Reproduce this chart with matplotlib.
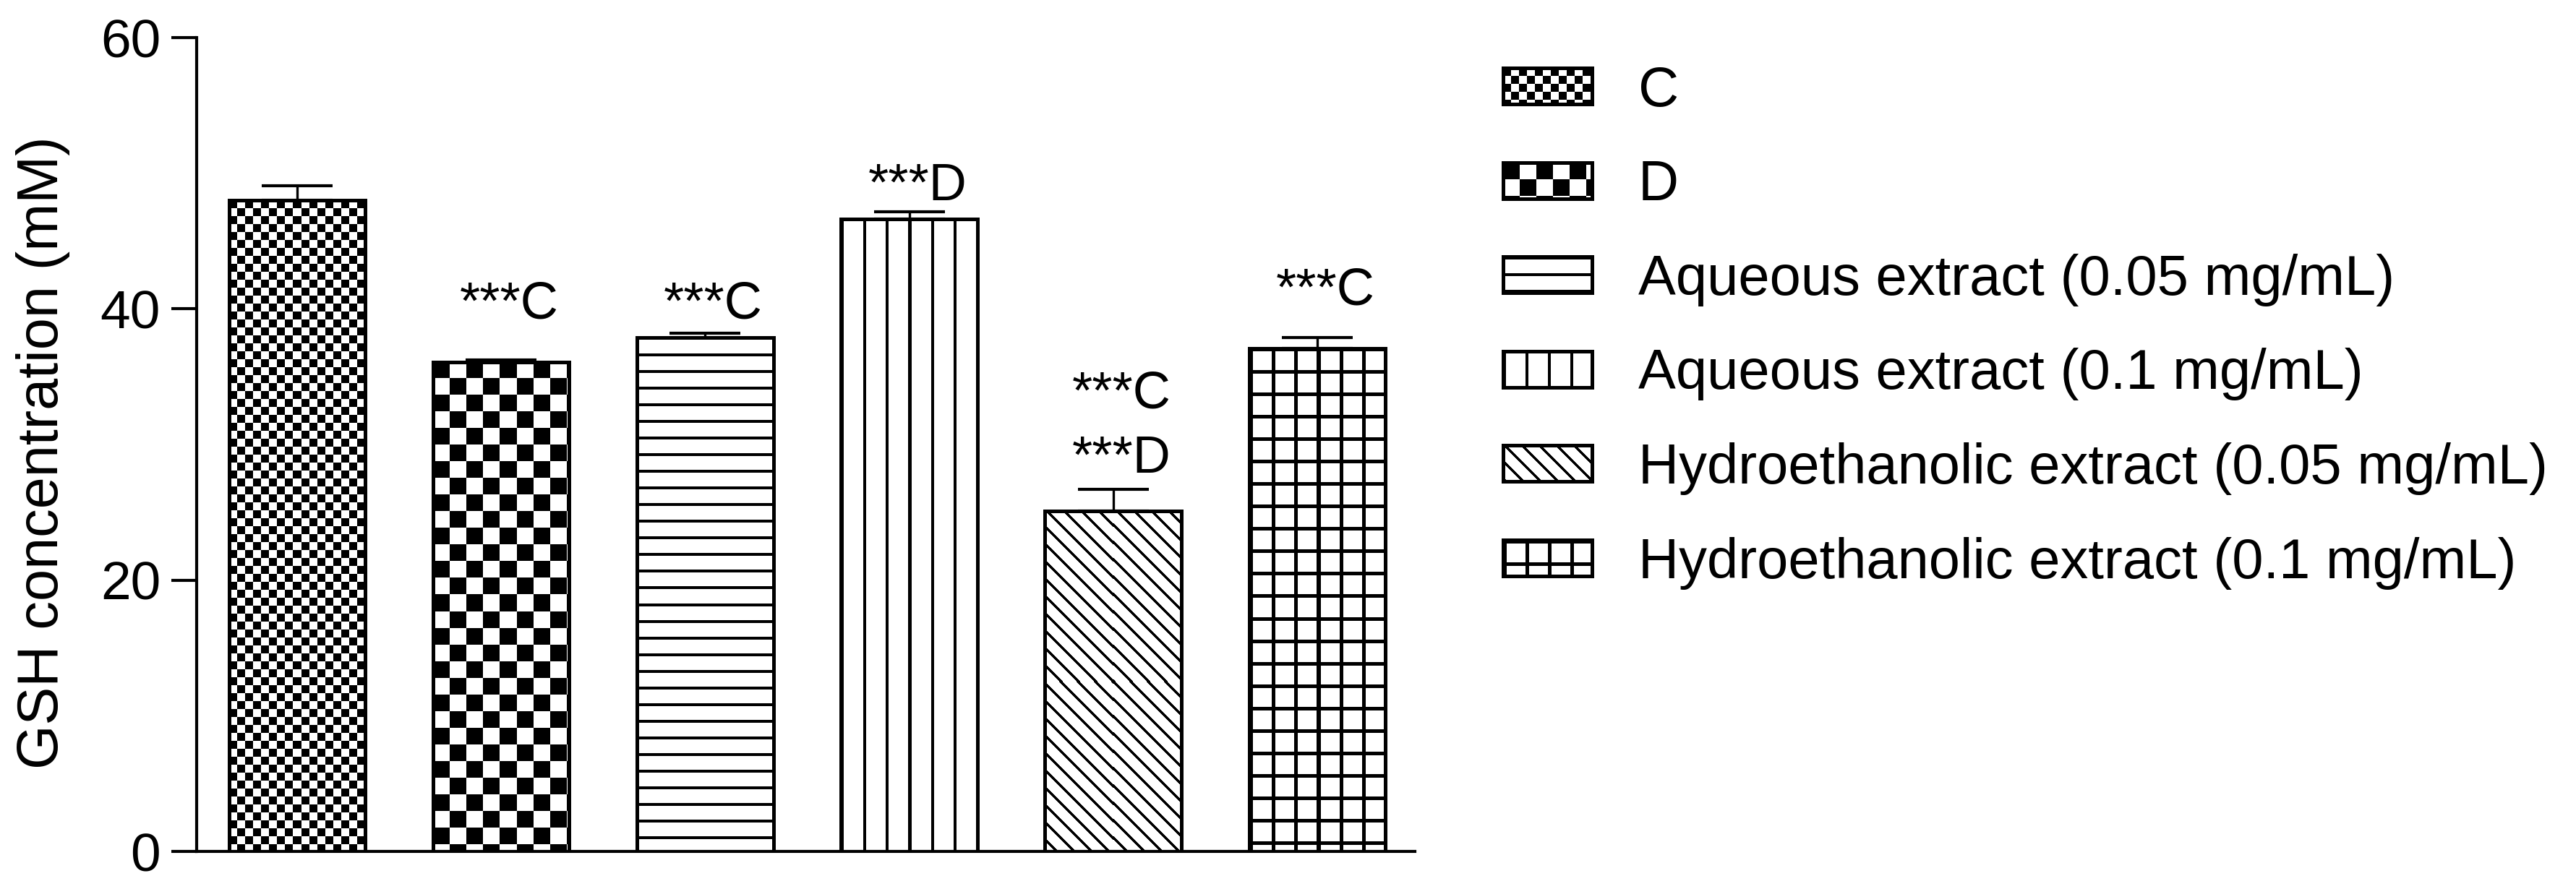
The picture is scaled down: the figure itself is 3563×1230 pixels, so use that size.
import numpy as np
import matplotlib.pyplot as plt

plt.rcParams["font.family"] = ["Liberation Sans", "DejaVu Sans"]

groups = [
    "C",
    "D",
    "Aqueous extract (0.05 mg/mL)",
    "Aqueous extract (0.1 mg/mL)",
    "Hydroethanolic extract (0.05 mg/mL)",
    "Hydroethanolic extract (0.1 mg/mL)",
]
gsh_mean = [48.0, 36.1, 37.9, 46.6, 25.1, 37.1]
gsh_err = [1.1, 0.15, 0.3, 0.55, 1.6, 0.8]
fills = ["fine_checker", "checker", "hlines", "vlines", "diag", "grid"]

# significance marks: (bar index, text, baseline in mM)
sig_bar = [1, 2, 3, 4, 4, 5]
sig_text = ["***C", "***C", "***D", "***C", "***D", "***C"]
sig_y = [39.3, 39.3, 48.0, 32.7, 27.9, 40.3]

y_ticks = [0, 20, 40, 60]

W, H, DPI = 3563, 1230, 100


def texture(kind, w, h):
    # 1 = white, 0 = black, pixel sized
    yy, xx = np.mgrid[0:h, 0:w]
    img = np.ones((h, w))
    if kind == "fine_checker":
        img = ((xx // 11 + yy // 11) % 2).astype(float)
    elif kind == "checker":
        img = ((xx // 23 + yy // 23) % 2).astype(float)
    elif kind == "hlines":
        img[(yy % 23) < 4] = 0
    elif kind == "vlines":
        img[(xx % 31) < 4] = 0
    elif kind == "diag":
        img[((xx - yy) % 24) < 5] = 0
    elif kind == "grid":
        img[(xx % 31) < 5] = 0
        img[(yy % 31) < 5] = 0
    return img


fig = plt.figure(figsize=(W / DPI, H / DPI), dpi=DPI)
ax = fig.add_axes([272 / W, 1 - 1178 / H, 1685 / W, 1126 / H])

x = np.arange(len(groups))
ax.set_xlim(-0.494, 5.48)
ax.set_ylim(0, 60)
ax.set_autoscale_on(False)

bars = ax.bar(x, gsh_mean, width=0.667, facecolor="none", edgecolor="black",
              linewidth=3.6, zorder=3)

for bar, kind in zip(bars, fills):
    x0, x1 = bar.get_x(), bar.get_x() + bar.get_width()
    y1 = bar.get_height()
    (px0, py0), (px1, py1) = ax.transData.transform([(x0, 0), (x1, y1)])
    img = texture(kind, int(round(px1 - px0)), int(round(py1 - py0)))
    ax.imshow(img, extent=(x0, x1, 0, y1), cmap="gray", vmin=0, vmax=1,
              interpolation="nearest", aspect="auto", zorder=2)

ax.errorbar(x, gsh_mean, yerr=[np.zeros(len(x)), gsh_err], fmt="none",
            ecolor="black", elinewidth=2.4, capsize=35, capthick=3, zorder=4)

for i, txt, yv in zip(sig_bar, sig_text, sig_y):
    ax.text(x[i] + 0.04, yv, txt, ha="center", va="baseline", fontsize=52)

ax.set_xlim(-0.494, 5.48)
ax.set_ylim(0, 60)

for side in ["top", "right"]:
    ax.spines[side].set_visible(False)
for side in ["left", "bottom"]:
    ax.spines[side].set_linewidth(3)
ax.set_xticks([])
ax.set_yticks(y_ticks)
ax.tick_params(axis="y", length=25, width=3, pad=11, labelsize=54)
ax.set_ylabel("GSH concentration (mM)", fontsize=57)
ax.yaxis.set_label_coords(-0.104, 0.49)

# legend drawn by hand so the handles can carry the same textures
row0, row_step = 119, 130.6
for i, (name, kind) in enumerate(zip(groups, fills)):
    yc = row0 + i * row_step
    hax = fig.add_axes([2079 / W, 1 - (yc + 25) / H, 123 / W, 50 / H])
    hax.imshow(texture(kind, 123, 50), cmap="gray", vmin=0, vmax=1,
               interpolation="nearest", aspect="auto")
    hax.set_xticks([])
    hax.set_yticks([])
    for sp in hax.spines.values():
        sp.set_linewidth(3.6)
    fig.text(2266 / W, 1 - (yc + 7) / H, name, ha="left", va="center", fontsize=56)

fig.savefig("out.png", dpi=DPI, facecolor="white")
